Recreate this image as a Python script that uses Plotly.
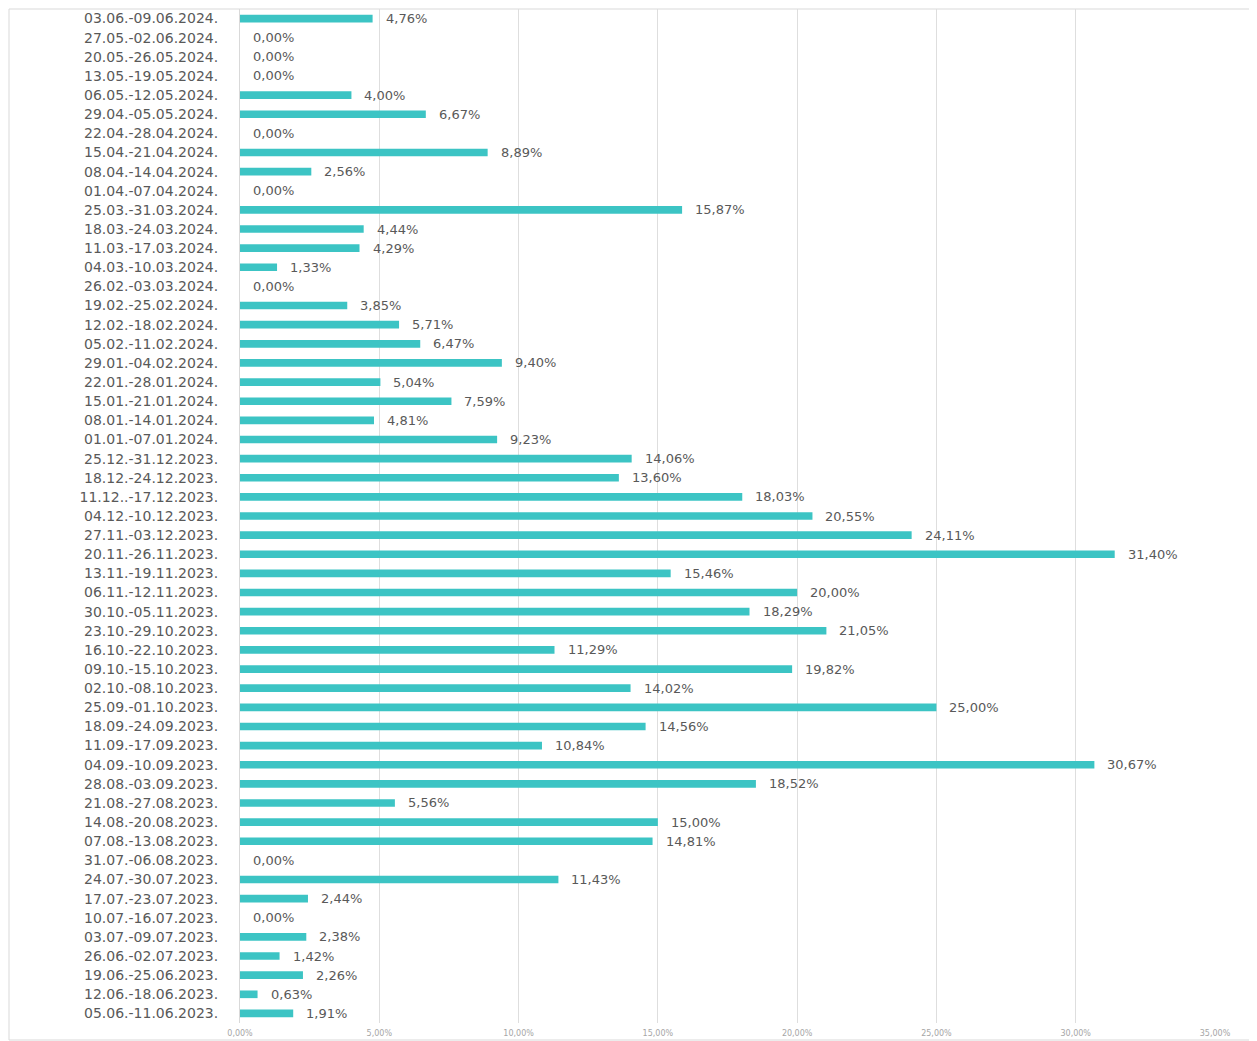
import plotly.graph_objects as go

weeks = [
    "03.06.-09.06.2024.", "27.05.-02.06.2024.", "20.05.-26.05.2024.", "13.05.-19.05.2024.",
    "06.05.-12.05.2024.", "29.04.-05.05.2024.", "22.04.-28.04.2024.", "15.04.-21.04.2024.",
    "08.04.-14.04.2024.", "01.04.-07.04.2024.", "25.03.-31.03.2024.", "18.03.-24.03.2024.",
    "11.03.-17.03.2024.", "04.03.-10.03.2024.", "26.02.-03.03.2024.", "19.02.-25.02.2024.",
    "12.02.-18.02.2024.", "05.02.-11.02.2024.", "29.01.-04.02.2024.", "22.01.-28.01.2024.",
    "15.01.-21.01.2024.", "08.01.-14.01.2024.", "01.01.-07.01.2024.", "25.12.-31.12.2023.",
    "18.12.-24.12.2023.", "11.12..-17.12.2023.", "04.12.-10.12.2023.", "27.11.-03.12.2023.",
    "20.11.-26.11.2023.", "13.11.-19.11.2023.", "06.11.-12.11.2023.", "30.10.-05.11.2023.",
    "23.10.-29.10.2023.", "16.10.-22.10.2023.", "09.10.-15.10.2023.", "02.10.-08.10.2023.",
    "25.09.-01.10.2023.", "18.09.-24.09.2023.", "11.09.-17.09.2023.", "04.09.-10.09.2023.",
    "28.08.-03.09.2023.", "21.08.-27.08.2023.", "14.08.-20.08.2023.", "07.08.-13.08.2023.",
    "31.07.-06.08.2023.", "24.07.-30.07.2023.", "17.07.-23.07.2023.", "10.07.-16.07.2023.",
    "03.07.-09.07.2023.", "26.06.-02.07.2023.", "19.06.-25.06.2023.", "12.06.-18.06.2023.",
    "05.06.-11.06.2023.",
]

percent_values = [
    4.76, 0.00, 0.00, 0.00, 4.00, 6.67, 0.00, 8.89, 2.56, 0.00,
    15.87, 4.44, 4.29, 1.33, 0.00, 3.85, 5.71, 6.47, 9.40, 5.04,
    7.59, 4.81, 9.23, 14.06, 13.60, 18.03, 20.55, 24.11, 31.40, 15.46,
    20.00, 18.29, 21.05, 11.29, 19.82, 14.02, 25.00, 14.56, 10.84, 30.67,
    18.52, 5.56, 15.00, 14.81, 0.00, 11.43, 2.44, 0.00, 2.38, 1.42,
    2.26, 0.63, 1.91,
]

x_ticks = [0, 0.05, 0.10, 0.15, 0.20, 0.25, 0.30, 0.35]

fractions = [v / 100 for v in percent_values]
labels = [f"{v:.2f}%".replace(".", ",") for v in percent_values]

fig = go.Figure(go.Bar(
    x=fractions,
    y=weeks,
    orientation="h",
    marker=dict(color="#3CC4C4", line=dict(width=0)),
    hoverinfo="skip",
))

annotations = [
    dict(
        x=xv, y=cat, xref="x", yref="y",
        text=lab, showarrow=False,
        xanchor="left", yanchor="middle",
        xshift=11,
        font=dict(family="DejaVu Sans", size=13, color="#595959"),
    )
    for xv, cat, lab in zip(fractions, weeks, labels)
]

plot_left, plot_w = 232, 975
plot_top, plot_h = 1, 1014

fig.update_layout(
    width=1257,
    height=1041,
    margin=dict(l=plot_left, r=1257 - plot_left - plot_w, t=plot_top, b=1041 - plot_top - plot_h),
    paper_bgcolor="white",
    plot_bgcolor="white",
    bargap=0.6,
    separators=",.",
    showlegend=False,
    font=dict(family="DejaVu Sans", color="#595959"),
    annotations=annotations,
    xaxis=dict(
        range=[0, 0.35],
        tickvals=x_ticks,
        tickformat=".2%",
        tickfont=dict(size=8, color="#a6a6a6"),
        showgrid=True,
        gridcolor="#dedede",
        gridwidth=1,
        zeroline=False,
        showline=False,
        ticks="",
        ticklabelstandoff=4,
    ),
    yaxis=dict(
        categoryorder="array",
        categoryarray=weeks[::-1],
        range=[-0.5, len(weeks) - 0.5],
        tickfont=dict(size=14, color="#595959"),
        showline=True,
        linecolor="#d9d9d9",
        linewidth=1,
        ticks="",
        ticklabelstandoff=18,
        showgrid=False,
    ),
    shapes=[dict(
        type="rect", xref="paper", yref="paper",
        x0=(1 - plot_left) / plot_w, x1=(1246 - plot_left) / plot_w,
        y0=-(1032 - plot_top - plot_h) / plot_h, y1=1.0,
        line=dict(color="#d9d9d9", width=1),
        fillcolor="rgba(0,0,0,0)",
        layer="below",
    )],
)

fig.write_html("out.html")
